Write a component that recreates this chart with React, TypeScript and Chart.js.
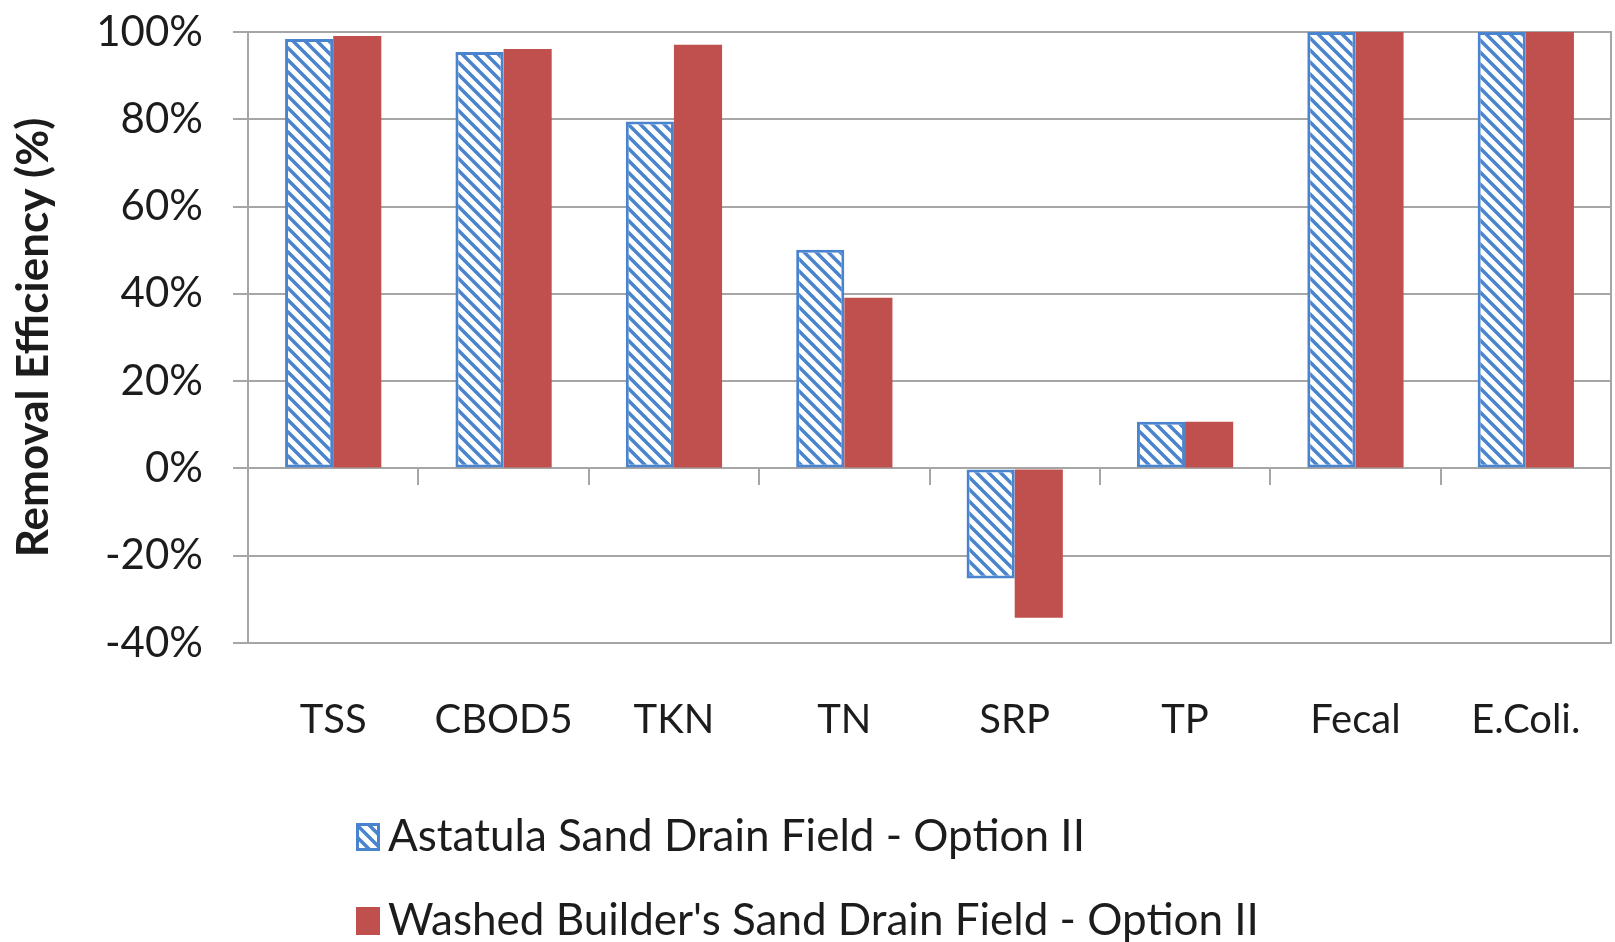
import React, { useEffect, useRef } from "react";
import { Chart, registerables } from "chart.js";

Chart.register(...registerables);

const categories = ["TSS", "CBOD5", "TKN", "TN", "SRP", "TP", "Fecal", "E.Coli."];
const astatulaValues = [98.4, 95.4, 79.5, 50.1, -25.2, 10.7, 100, 100];
const washedValues = [99.1, 96.1, 97.1, 39.1, -34.2, 10.7, 100, 100];
const seriesLabels = [
  "Astatula Sand Drain Field - Option II",
  "Washed Builder's Sand Drain Field - Option II",
];
const yTitle = "Removal Efficiency (%)";

const FONT = "Lato";
const BLUE = "#4A84CF";
const RED = "#C0504D";
const GRID = "#a6a6a6";
const TEXT = "#1c1c1c";

function makePattern(): CanvasPattern | string {
  const s = 12;
  const c = document.createElement("canvas");
  c.width = s;
  c.height = s;
  const g = c.getContext("2d");
  if (!g) return BLUE;
  g.fillStyle = "#ffffff";
  g.fillRect(0, 0, s, s);
  g.strokeStyle = BLUE;
  g.lineWidth = 3.5;
  for (const k of [-s, 0, s]) {
    g.beginPath();
    g.moveTo(k - 1, -1);
    g.lineTo(k + s + 1, s + 1);
    g.stroke();
  }
  return g.createPattern(c, "repeat") || BLUE;
}

function zeroPad(scale: any) {
  scale.paddingLeft = 0;
  scale.paddingRight = 0;
  scale.paddingTop = 0;
  scale.paddingBottom = 0;
}

export default function App() {
  const ref = useRef<HTMLCanvasElement | null>(null);
  useEffect(() => {
    document.body.style.margin = "0";
    const canvas = ref.current;
    if (!canvas) return;
    const pattern = makePattern();

    const legendPlugin = {
      id: "customLegend",
      afterDraw(chart: any) {
        const ctx = chart.ctx;
        ctx.save();
        const rows = [
          { y: 837, fill: pattern, stroke: BLUE, text: seriesLabels[0] },
          { y: 921, fill: RED, stroke: null, text: seriesLabels[1] },
        ];
        for (const r of rows) {
          const x = 356;
          const w = 24;
          const h = 28;
          ctx.fillStyle = r.fill as any;
          ctx.fillRect(x, r.y - h / 2, w, h);
          if (r.stroke) {
            ctx.strokeStyle = r.stroke;
            ctx.lineWidth = 3;
            ctx.strokeRect(x + 1.5, r.y - h / 2 + 1.5, w - 3, h - 3);
          }
          ctx.fillStyle = TEXT;
          ctx.font = `44px ${FONT}`;
          ctx.textBaseline = "middle";
          ctx.textAlign = "left";
          ctx.fillText(r.text, 388, r.y);
        }
        ctx.restore();
      },
    };

    const chart = new Chart(canvas, {
      type: "bar",
      data: {
        labels: categories,
        datasets: [
          {
            label: seriesLabels[0],
            data: astatulaValues,
            backgroundColor: pattern as any,
            borderColor: BLUE,
            borderWidth: 3,
            borderSkipped: false,
          },
          {
            label: seriesLabels[1],
            data: washedValues,
            backgroundColor: RED,
            borderWidth: 0,
          },
        ],
      },
      options: {
        responsive: false,
        animation: false,
        devicePixelRatio: 1,
        datasets: { bar: { barPercentage: 1, categoryPercentage: 0.565 } },
        layout: { padding: { left: 0, top: 32, right: 4, bottom: 0 } },
        plugins: {
          legend: { display: false },
          tooltip: { enabled: false },
        },
        scales: {
          x: {
            position: "bottom",
            grid: { display: false, drawTicks: false },
            border: { display: false },
            ticks: {
              color: TEXT,
              font: { family: FONT, size: 40 },
              padding: 53,
              maxRotation: 0,
              autoSkip: false,
            },
            afterFit(scale: any) {
              scale.height = 299;
              zeroPad(scale);
            },
          },
          xZero: {
            type: "category",
            axis: "x",
            labels: categories,
            offset: true,
            position: { y: 0 } as any,
            grid: {
              offset: true,
              drawOnChartArea: false,
              drawTicks: true,
              tickLength: 16,
              color: GRID,
              lineWidth: 2,
            },
            border: { display: true, color: GRID, width: 2 },
            ticks: { display: false },
            afterFit(scale: any) {
              zeroPad(scale);
            },
          } as any,
          y: {
            min: -40,
            max: 100,
            ticks: {
              stepSize: 20,
              color: TEXT,
              font: { family: FONT, size: 42 },
              padding: 30,
              callback: (v: any) => `${v}%`,
            },
            grid: { color: GRID, lineWidth: 2, tickLength: 15 },
            border: { display: true, color: GRID, width: 2 },
            title: {
              display: true,
              text: yTitle,
              color: TEXT,
              font: { family: FONT, size: 44, weight: "bold" },
              padding: { top: 7, bottom: 0 },
            },
            afterFit(scale: any) {
              scale.width = 248;
              zeroPad(scale);
            },
          },
          yRight: {
            position: "right",
            min: -40,
            max: 100,
            ticks: { display: false },
            grid: { display: false, drawTicks: false },
            border: { display: true, color: GRID, width: 2 },
            afterFit(scale: any) {
              scale.width = 0;
              zeroPad(scale);
            },
          } as any,
        },
      },
      plugins: [legendPlugin],
    });
    return () => chart.destroy();
  }, []);
  return <canvas ref={ref} width={1615} height={942} style={{ display: "block" }} />;
}
